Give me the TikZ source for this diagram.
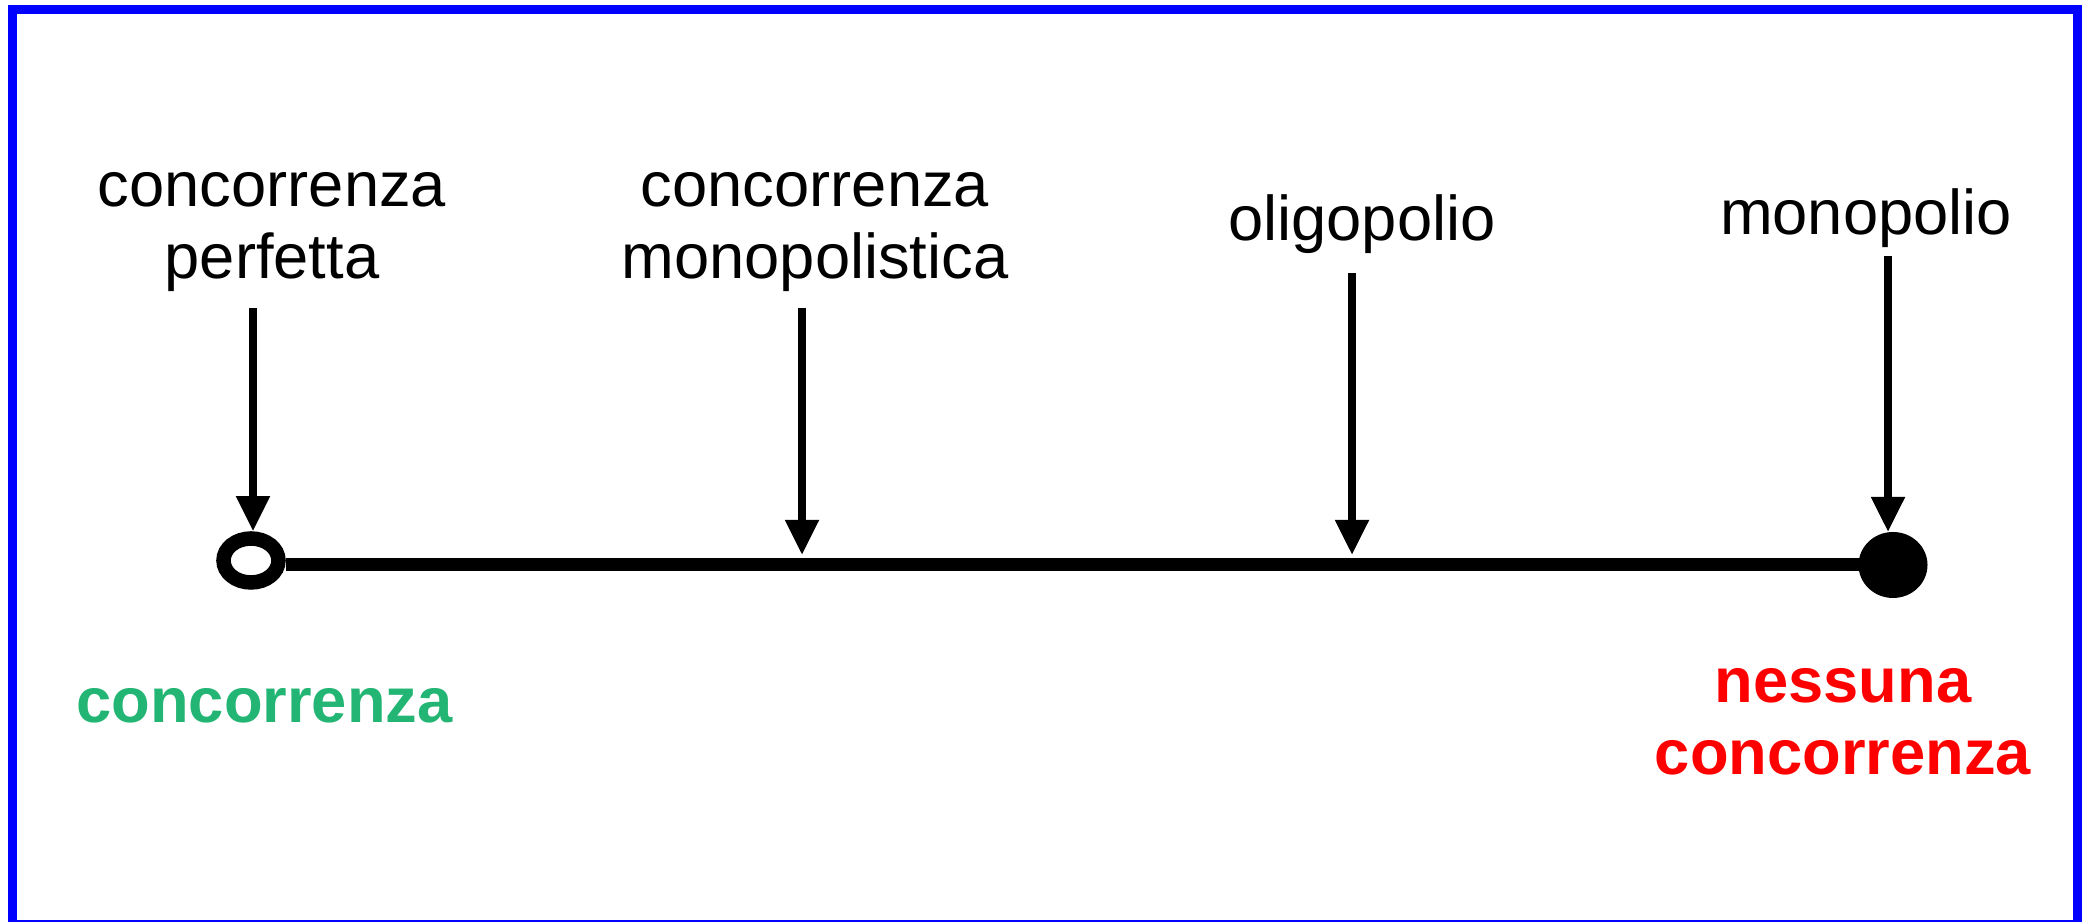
\documentclass[tikz,border=0pt]{standalone}
\usepackage{fontspec}
\setmainfont{Liberation Sans}
\usepackage{tikz}
\usetikzlibrary{arrows.meta}
\usetikzlibrary{shapes.geometric,calc}
\definecolor{cornice}{RGB}{0,0,255}
\definecolor{verdeconc}{RGB}{34,181,115}
\definecolor{rossonc}{RGB}{255,0,0}

\begin{document}
\begin{tikzpicture}[
    etich/.style={font=\fontsize{18}{20.5}\selectfont,align=center,anchor=base,inner sep=0pt},
    estremo/.style={font=\fontsize{18}{20.5}\selectfont\bfseries,align=center,anchor=base,inner sep=0pt},
    freccia/.style={-{Triangle[length=0.35cm,width=0.32cm]},line width=0.08cm}]
    \useasboundingbox (0,0) rectangle (20.9,9.22);
    \draw[cornice,line width=0.09cm] (0.125,-0.025) rectangle (20.775,9.125);
    % estremi dell'asse
    \node[ellipse,draw,line width=0.145cm,minimum width=0.55cm,minimum height=0.44cm,inner sep=0pt]
      (aperto) at (2.51,3.615) {};
    \node[ellipse,fill,minimum width=0.69cm,minimum height=0.66cm,inner sep=0pt,outer sep=0pt]
      (pieno) at (18.93,3.57) {};
    \draw[line width=0.13cm] (aperto.east |- pieno) -- (pieno);
    % etichette (base = ultima riga)
    \node[etich] (perf) at (2.72,6.43) {concorrenza\\perfetta};
    \node[etich] (monop) at (8.15,6.43) {concorrenza\\monopolistica};
    \node[etich] (oligo) at (13.62,6.81) {oligopolio};
    \node[etich] (mono) at (18.66,6.87) {monopolio};
    \node[estremo,text=verdeconc] (conc) at (2.645,1.99) {concorrenza};
    \node[estremo,text=rossonc] (nessuna) at (18.43,1.47) {nessuna\\concorrenza};
    % frecce
    \coordinate (f1) at (2.53,6.14);
    \coordinate (f4) at (18.88,6.66);
    \draw[freccia] (f1) -- (f1 |- aperto.north);
    \draw[freccia] (f4) -- (f4 |- pieno.north);
    \foreach \n/\x/\y in {2/8.02/6.14, 3/13.52/6.49}{
      \coordinate (f\n) at (\x,\y);
      \coordinate (p\n) at (\x,3.67);
      \draw[freccia] (f\n) -- (p\n);}
\end{tikzpicture}
\end{document}
